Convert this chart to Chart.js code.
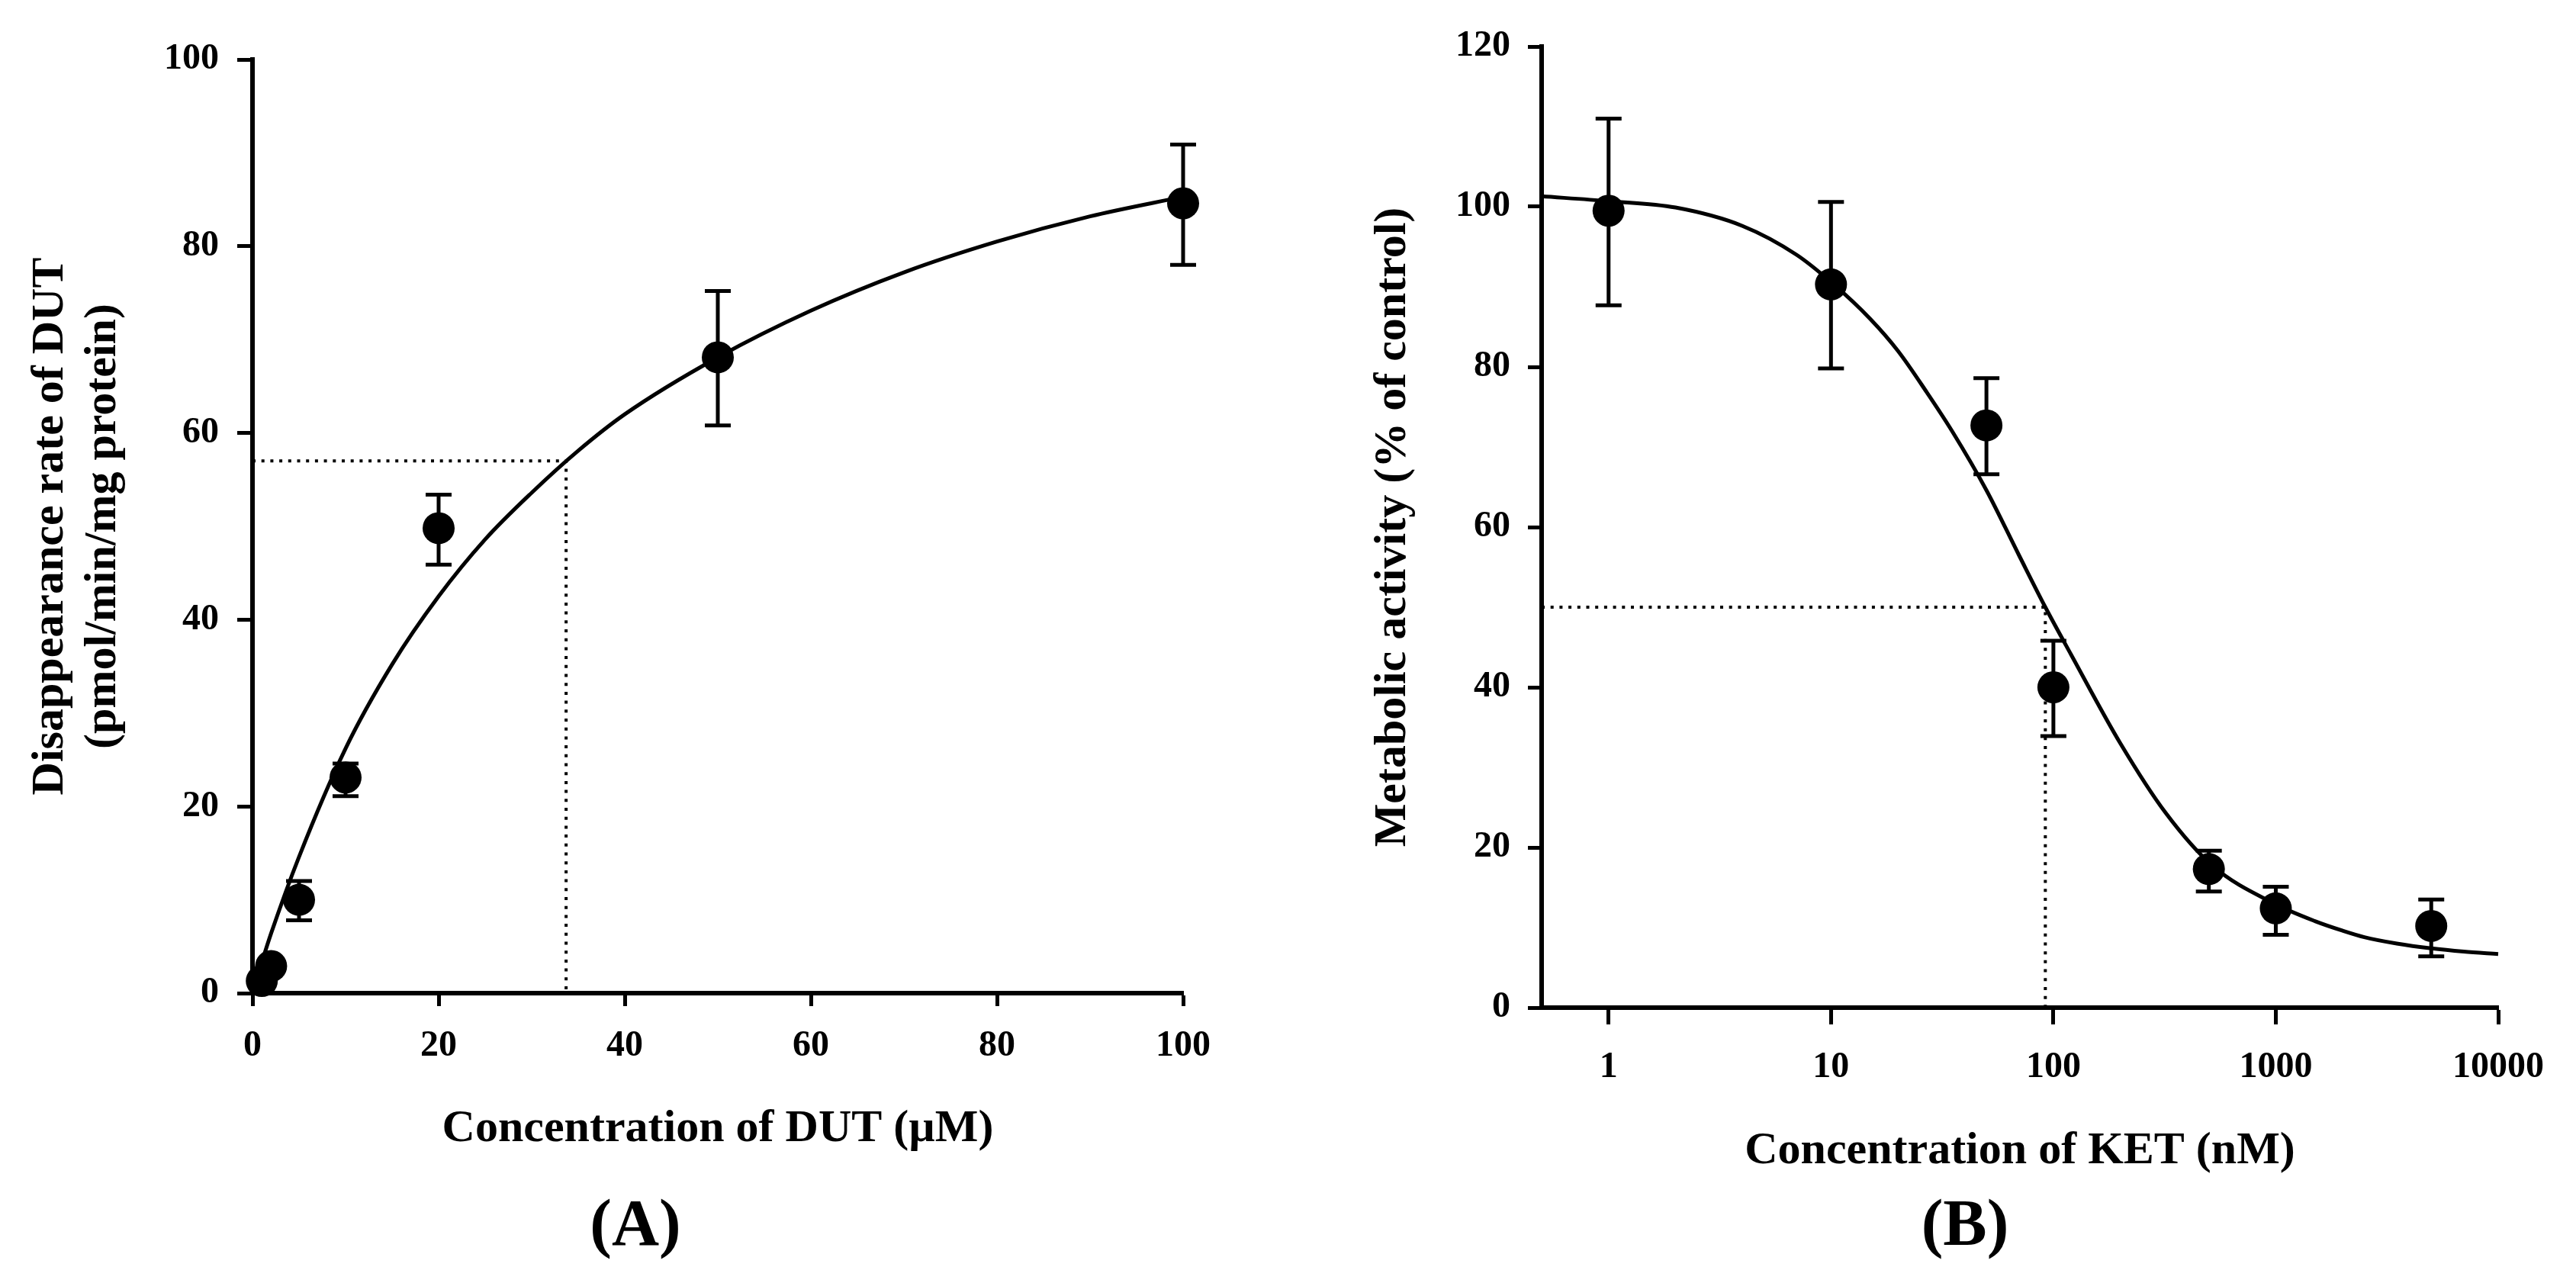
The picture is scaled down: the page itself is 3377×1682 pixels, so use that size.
<!DOCTYPE html>
<html>
<head>
<meta charset="utf-8">
<script src="https://cdn.jsdelivr.net/npm/chart.js@4.4.1/dist/chart.umd.min.js"></script>
<style>
  html, body { margin: 0; padding: 0; background: #fff; overflow: hidden; }
  body { width: 3377px; height: 1682px; position: relative; }
  canvas { position: absolute; top: 0; }
  #chart-a { left: 0; }
  #chart-b { left: 1720px; }
  .panel {
    position: absolute; top: 1560px; width: 400px; text-align: center;
    font: bold 86px/86px "Liberation Serif", "Times New Roman", serif; color: #000;
  }
</style>
</head>
<body>
<canvas id="chart-a" width="1720" height="1682"></canvas>
<canvas id="chart-b" width="1657" height="1682"></canvas>
<div class="panel" style="left: 633px;">(A)</div>
<div class="panel" style="left: 2376px;">(B)</div>
<script>
// (A) DUT 농도 대 소실 속도
const dutConc = [1, 2, 5, 10, 20, 50, 100];
const dutRate = [1.3, 2.9, 10.0, 23.1, 49.8, 68.1, 84.6];
const dutRateHigh = [1.9, 3.6, 12.0, 24.6, 53.4, 75.2, 90.9];
const dutRateLow = [0.7, 2.2, 7.8, 21.1, 45.9, 60.8, 78.0];
const dutFitConc = [0, 1, 2, 5, 10, 15, 20, 25, 30, 35, 40, 50, 60, 70, 80, 90, 100];
const dutFitRate = [0, 3.3, 6.4, 14.6, 26.2, 35.2, 42.5, 48.6, 53.6, 58.1, 62.0, 68.1, 73.1, 77.2, 80.5, 83.2, 85.3];
const dutKmConc = [0, 33.7, 33.7];
const dutKmRate = [57, 57, 0];
const dutTicks = [0, 20, 40, 60, 80, 100];

// (B) KET 농도 대 대사 활성
const ketConc = [1, 10, 50, 100, 500, 1000, 5000];
const ketActivity = [99.5, 90.3, 72.7, 40.0, 17.3, 12.4, 10.2];
const ketActivityHigh = [111.0, 100.6, 78.6, 45.8, 19.6, 15.1, 13.5];
const ketActivityLow = [87.7, 79.8, 66.6, 33.9, 14.5, 9.1, 6.4];
const ketFitConc = [0.5, 1, 2, 4, 7, 10, 15, 20, 27, 35, 50, 70, 92, 120, 200, 320, 520, 1000, 1500, 2000, 2500, 3500, 5000, 7000, 10000];
const ketFitActivity = [101.3, 100.7, 99.9, 97.6, 94.0, 90.6, 86.0, 82.0, 76.8, 72.0, 64.6, 56.5, 50.0, 44.1, 33.0, 24.3, 17.7, 12.9, 10.8, 9.6, 8.8, 8.0, 7.4, 7.0, 6.7];
const ketIc50Conc = [0.5, 92, 92];
const ketIc50Activity = [50, 50, 0];
const ketTicks = [1, 10, 100, 1000, 10000];
const ketYTicks = [0, 20, 40, 60, 80, 100, 120];

Chart.defaults.font.family = '"Liberation Serif", "Times New Roman", serif';
Chart.defaults.font.weight = 'bold';
Chart.defaults.color = '#000';

const toXY = (xs, ys) => xs.map((x, i) => ({ x, y: ys[i] }));

// 오차 막대는 라이브러리 축으로 좌표 변환해서 그림
function errorBars(conc, high, low) {
    return {
        id: 'errorBars',
        afterDatasetsDraw(chart) {
            const { ctx, scales: { x, y } } = chart;
            ctx.save();
            ctx.strokeStyle = '#000';
            ctx.lineWidth = 5;
            conc.forEach((c, i) => {
                const px = x.getPixelForValue(c),
                    top = y.getPixelForValue(high[i]),
                    bot = y.getPixelForValue(low[i]);
                ctx.beginPath();
                ctx.moveTo(px, top); ctx.lineTo(px, bot);
                ctx.moveTo(px - 17, top); ctx.lineTo(px + 17, top);
                ctx.moveTo(px - 17, bot); ctx.lineTo(px + 17, bot);
                ctx.stroke();
            });
            ctx.restore();
        },
    };
}

function axis(extra, tickLength, tickPadding, title, titlePadding, fit) {
    return {
        ...extra,
        border: { color: '#000', width: 6 },
        grid: { display: true, drawOnChartArea: false, drawTicks: true, tickLength, tickWidth: 5, tickColor: '#000' },
        ticks: {
            color: '#000', font: { size: 48, weight: 'bold' }, padding: tickPadding,
            maxRotation: 0, autoSkip: false,
            callback: v => String(v),
        },
        title: { display: true, text: title, color: '#000', font: { size: 60, weight: 'bold', lineHeight: 1.15 }, padding: titlePadding },
        afterFit: fit,
    };
}

function createChart(canvas, p) {
    return new Chart(canvas, {
        type: 'scatter',
        data: {
            datasets: [
                {
                    data: p.fit, showLine: true, borderColor: '#000', borderWidth: 5,
                    pointRadius: 0, cubicInterpolationMode: 'monotone', clip: false,
                },
                {
                    data: p.ref, showLine: true, borderColor: '#000', borderWidth: 4,
                    borderDash: [4, 7.7], pointRadius: 0, tension: 0, clip: false,
                },
                {
                    data: p.points, showLine: false, pointRadius: 21, pointBorderWidth: 0,
                    pointBackgroundColor: '#000', clip: false,
                },
            ],
        },
        options: {
            responsive: false,
            animation: false,
            devicePixelRatio: 1,
            events: [],
            layout: { padding: { left: 0, top: p.area.top, right: canvas.width - p.area.right, bottom: 0 } },
            plugins: { legend: { display: false }, tooltip: { enabled: false } },
            scales: {
                x: axis(p.x, p.xTick[0], p.xTick[1], p.xTitle, { top: 0, bottom: p.xTitlePad },
                    s => { s.height = canvas.height - p.area.bottom; }),
                y: axis(p.y, p.yTick[0], p.yTick[1], p.yTitle, { top: p.yTitlePad, bottom: 0 },
                    s => { s.width = p.area.left; }),
            },
        },
        plugins: [errorBars(p.conc, p.high, p.low)],
    });
}

createChart(document.getElementById('chart-a'), {
    area: { left: 331, top: 78, right: 1551, bottom: 1302 },
    fit: toXY(dutFitConc, dutFitRate),
    ref: toXY(dutKmConc, dutKmRate),
    points: toXY(dutConc, dutRate),
    conc: dutConc, high: dutRateHigh, low: dutRateLow,
    x: {
        type: 'linear', min: 0, max: 100,
        afterBuildTicks: s => { s.ticks = dutTicks.map(value => ({ value })); },
    },
    y: {
        type: 'linear', min: 0, max: 100,
        afterBuildTicks: s => { s.ticks = dutTicks.map(value => ({ value })); },
    },
    xTick: [17, 24], yTick: [20, 24],
    xTitle: 'Concentration of DUT (\u00b5M)', xTitlePad: 167,
    yTitle: ['Disappearance rate of DUT', '(pmol/min/mg protein)'], yTitlePad: 31.5,
});

createChart(document.getElementById('chart-b'), {
    area: { left: 301, top: 61, right: 1555, bottom: 1321 },
    fit: toXY(ketFitConc, ketFitActivity),
    ref: toXY(ketIc50Conc, ketIc50Activity),
    points: toXY(ketConc, ketActivity),
    conc: ketConc, high: ketActivityHigh, low: ketActivityLow,
    x: {
        type: 'logarithmic', min: 0.5, max: 10000,
        afterBuildTicks: s => { s.ticks = ketTicks.map(value => ({ value })); },
    },
    y: {
        type: 'linear', min: 0, max: 120,
        afterBuildTicks: s => { s.ticks = ketYTicks.map(value => ({ value })); },
    },
    xTick: [22, 28], yTick: [18, 23],
    xTitle: 'Concentration of KET (nM)', xTitlePad: 138,
    yTitle: 'Metabolic activity (% of control)', yTitlePad: 71.5,
});
</script>
</body>
</html>
